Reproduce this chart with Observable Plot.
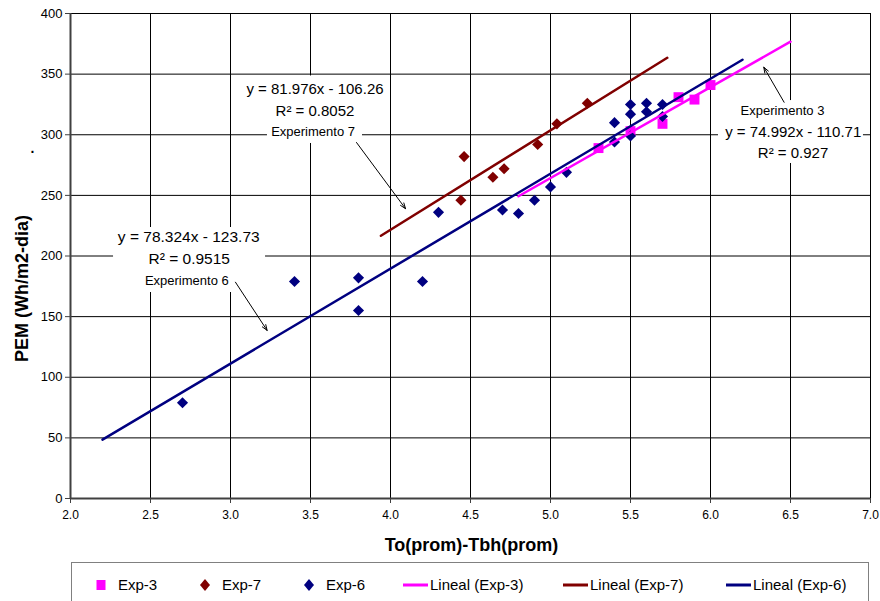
<!DOCTYPE html>
<html><head><meta charset="utf-8">
<script src="https://cdn.jsdelivr.net/npm/d3@7"></script>
<script src="https://cdn.jsdelivr.net/npm/@observablehq/plot@0.6"></script>
<style>
body{margin:0;background:#fff;font-family:"Liberation Sans",Arial,sans-serif;}
#wrap{position:relative;width:880px;height:601px;overflow:hidden;background:#fff;}
#legend{position:absolute;left:71px;top:562px;width:798px;height:50px;border:1px solid #808080;box-sizing:border-box;background:#fff;}
.item{position:absolute;top:12px;height:20px;font-size:15px;line-height:20px;color:#000;white-space:nowrap;}
.mk{position:absolute;}
</style></head><body><div id="wrap"><div id="chart"></div><div id="legend"></div></div>
<script>
// ---- data ----
const xTicks = [2.0, 2.5, 3.0, 3.5, 4.0, 4.5, 5.0, 5.5, 6.0, 6.5, 7.0];
const yTicks = [0, 50, 100, 150, 200, 250, 300, 350, 400];

const seriesNames = ["Exp-3", "Exp-7", "Exp-6"];
const seriesColors = ["#FF00FF", "#800000", "#000080"];

const exp3X = [5.3, 5.5, 5.7, 5.8, 5.9, 6.0];
const exp3Y = [289, 303, 309, 331, 329, 341];

const exp7X = [4.44, 4.46, 4.64, 4.71, 4.92, 5.04, 5.23];
const exp7Y = [246, 282, 265, 272, 292, 309, 326];

const exp6X = [2.7, 3.4, 3.8, 3.8, 4.2, 4.3, 4.7, 4.8, 4.9, 5.0, 5.1, 5.4, 5.4, 5.5, 5.5, 5.5, 5.6, 5.6, 5.7, 5.7];
const exp6Y = [79, 179, 182, 155, 179, 236, 238, 235, 246, 257, 269, 310, 294, 325, 317, 299, 326, 319, 325, 315];

// trendline (Lineal) coefficients as printed on the chart
const trendSlope = [74.992, 81.976, 78.324];
const trendIntercept = [-110.71, -106.26, -123.73];
const trendR2 = ["0.927", "0.8052", "0.9515"];
const trendForecast = 0.5;

const expLabels = ["Experimento 3", "Experimento 7", "Experimento 6"];
const xTitle = "To(prom)-Tbh(prom)";
const yTitle = "PEM (Wh/m2-dia)";

// ---- derived tables ----
const xs = [exp3X, exp7X, exp6X];
const ys = [exp3Y, exp7Y, exp6Y];
const points = seriesNames.flatMap((s, i) => xs[i].map((x, j) => ({series: s, x, y: ys[i][j]})));
const trendPts = seriesNames.flatMap((s, i) => {
  const a = d3.min(xs[i]) - trendForecast, b = d3.max(xs[i]) + trendForecast;
  return [a, b].map(x => ({series: s, x, y: trendSlope[i] * x + trendIntercept[i]}));
});

// annotation placement (data units)
const notes = [
  // Exp-3
  {t: expLabels[0], x: 6.45, y: 319.4, fs: 13},
  {t: `y = ${trendSlope[0]}x - ${Math.abs(trendIntercept[0])}`, x: 6.517, y: 302.1, fs: 15},
  {t: `R² = ${trendR2[0]}`, x: 6.516, y: 284.8, fs: 15},
  // Exp-7
  {t: `y = ${trendSlope[1]}x - ${Math.abs(trendIntercept[1])}`, x: 3.528, y: 337.3, fs: 15},
  {t: `R² = ${trendR2[1]}`, x: 3.528, y: 319.2, fs: 15},
  {t: expLabels[1], x: 3.516, y: 302.7, fs: 13},
  // Exp-6
  {t: `y = ${trendSlope[2]}x - ${Math.abs(trendIntercept[2])}`, x: 2.739, y: 215.5, fs: 15.5},
  {t: `R² = ${trendR2[2]}`, x: 2.742, y: 197.7, fs: 15.5},
  {t: expLabels[2], x: 2.727, y: 179.8, fs: 13}
];
const boxes = [
  {x1: 6.05, x2: 6.956, y1: 276.3, y2: 328.2},
  {x1: 3.069, x2: 3.981, y1: 310.9, y2: 348.5},
  {x1: 3.231, x2: 3.825, y1: 292.8, y2: 311},
  {x1: 2.269, x2: 3.219, y1: 189.7, y2: 223.5},
  {x1: 2.4375, x2: 3.0375, y1: 169.9, y2: 190}
];
const arrows = [
  {x1: 6.46, y1: 326.8, x2: 6.333, y2: 355.7},
  {x1: 3.7875, y1: 293.6, x2: 4.094, y2: 239.0},
  {x1: 3.031, y1: 178.4, x2: 3.229, y2: 138.6}
];

const color = {domain: seriesNames, range: seriesColors};
const FONT = "Liberation Sans, Arial, sans-serif";

const chart = Plot.plot({
  width: 880,
  height: 556,
  marginTop: 13,
  marginRight: 10,
  marginBottom: 58,
  marginLeft: 70,
  style: {fontFamily: FONT, fontSize: "12px", background: "white", color: "#000", overflow: "visible"},
  x: {domain: [2, 7]},
  y: {domain: [0, 400]},
  color,
  marks: [
    Plot.gridX(xTicks, {stroke: "#000", strokeOpacity: 1, strokeWidth: 1}),
    Plot.gridY(yTicks, {stroke: "#000", strokeOpacity: 1, strokeWidth: 1}),
    Plot.rect(boxes, {x1: "x1", x2: "x2", y1: "y1", y2: "y2", fill: "white"}),
    Plot.ruleX([2], {stroke: "#404040", strokeWidth: 2}),
    Plot.ruleY([0], {stroke: "#404040", strokeWidth: 2}),
    Plot.dot(points.filter(d => d.series === "Exp-3"), {x: "x", y: "y", symbol: "square", r: 5.6, fill: "series", stroke: null}),
    Plot.dot(points.filter(d => d.series !== "Exp-3"), {x: "x", y: "y", symbol: "diamond2", r: 5, fill: "series", stroke: null}),
    Plot.line(trendPts, {x: "x", y: "y", z: "series", stroke: "series", strokeWidth: 2.5}),
    Plot.arrow(arrows, {x1: "x1", y1: "y1", x2: "x2", y2: "y2", stroke: "#000", strokeWidth: 1, headLength: 9, headAngle: 40}),
    Plot.text(notes, {x: "x", y: "y", text: "t", fontSize: d => d.fs, fill: "#000", fontFamily: FONT}),
    Plot.axisX({ticks: xTicks, tickFormat: d3.format(".1f"), tickSize: 5, tickPadding: 7, fontSize: 12, label: null, stroke: "#404040"}),
    Plot.axisY({ticks: yTicks, tickSize: 5, tickPadding: 3, fontSize: 13, label: null, stroke: "#404040"}),
    Plot.text([{t: xTitle, x: 4.506, y: -38.8}], {x: "x", y: "y", text: "t", fontSize: 18, fontWeight: "bold", fontFamily: FONT}),
    Plot.text([{t: yTitle, x: 1.7, y: 173.2}], {x: "x", y: "y", text: "t", fontSize: 18, fontWeight: "bold", rotate: -90, fontFamily: FONT}),
    Plot.text([{t: ".", x: 1.7625, y: 289}], {x: "x", y: "y", text: "t", fontSize: 14, fontWeight: "bold", fontFamily: FONT})
  ]
});
document.getElementById("chart").appendChild(chart);

// ---- legend (HTML, below the SVG) ----
const legend = document.getElementById("legend");
const legendItems = [
  {label: seriesNames[0], color: seriesColors[0], kind: "square", mx: 101, tx: 118},
  {label: seriesNames[1], color: seriesColors[1], kind: "diamond", mx: 205, tx: 222},
  {label: seriesNames[2], color: seriesColors[2], kind: "diamond", mx: 309, tx: 326},
  {label: `Lineal (${seriesNames[0]})`, color: seriesColors[0], kind: "line", mx: 416, tx: 430},
  {label: `Lineal (${seriesNames[1]})`, color: seriesColors[1], kind: "line", mx: 576, tx: 590},
  {label: `Lineal (${seriesNames[2]})`, color: seriesColors[2], kind: "line", mx: 739, tx: 753}
];
const ox = 72, cy = 22;
for (const it of legendItems) {
  const m = document.createElementNS("http://www.w3.org/2000/svg", "svg");
  m.setAttribute("class", "mk");
  m.setAttribute("width", 28); m.setAttribute("height", 14);
  m.style.left = (it.mx - ox - 14) + "px";
  m.style.top = (cy - 7) + "px";
  let shape;
  if (it.kind === "square") {
    shape = `<rect x="9.5" y="2" width="9" height="10" fill="${it.color}"/>`;
  } else if (it.kind === "diamond") {
    shape = `<path d="M14 1 L19 7 L14 13 L9 7 Z" fill="${it.color}"/>`;
  } else {
    shape = `<line x1="1" x2="26" y1="7" y2="7" stroke="${it.color}" stroke-width="3"/>`;
  }
  m.innerHTML = shape;
  legend.appendChild(m);
  const t = document.createElement("div");
  t.className = "item";
  t.style.left = (it.tx - ox) + "px";
  t.textContent = it.label;
  legend.appendChild(t);
}
</script></body></html>
